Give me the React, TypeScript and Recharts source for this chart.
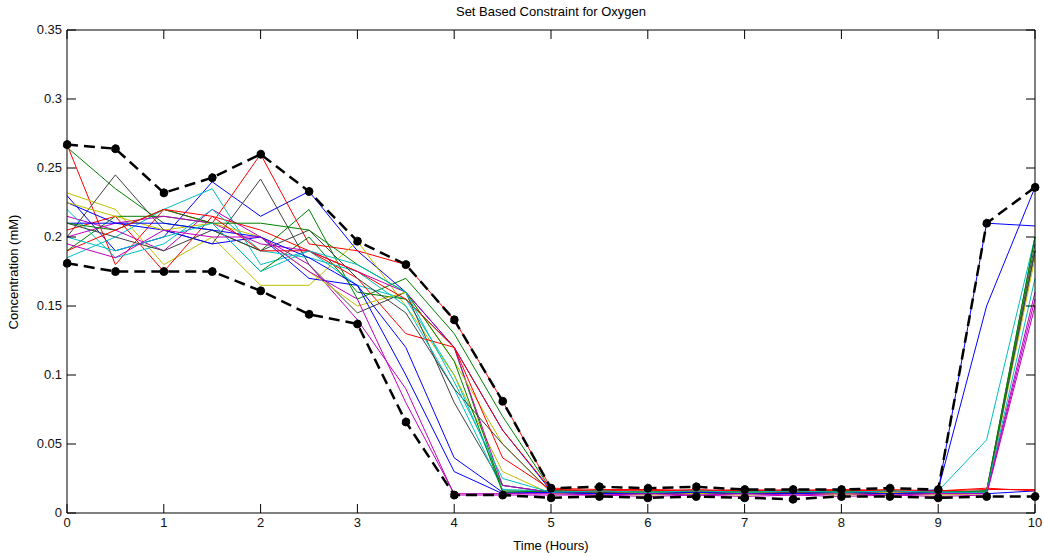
import React from "react";
import { LineChart, Line, XAxis, YAxis } from "recharts";

const time = [0, 0.5, 1, 1.5, 2, 2.5, 3, 3.5, 4, 4.5, 5, 5.5, 6, 6.5, 7, 7.5, 8, 8.5, 9, 9.5, 10];
const xTicks = [0, 1, 2, 3, 4, 5, 6, 7, 8, 9, 10];
const yTicks = [0, 0.05, 0.1, 0.15, 0.2, 0.25, 0.3, 0.35];

const upperBound = [0.267, 0.264, 0.232, 0.243, 0.26, 0.233, 0.197, 0.18, 0.14, 0.081, 0.018, 0.019, 0.018, 0.019, 0.017, 0.017, 0.017, 0.018, 0.017, 0.21, 0.236];
const lowerBound = [0.181, 0.175, 0.175, 0.175, 0.161, 0.144, 0.137, 0.066, 0.013, 0.013, 0.011, 0.012, 0.011, 0.012, 0.011, 0.01, 0.012, 0.012, 0.011, 0.012, 0.012];

const run01 = [0.23, 0.19, 0.2, 0.24, 0.215, 0.233, 0.19, 0.16, 0.12, 0.06, 0.016, 0.015, 0.014, 0.015, 0.014, 0.015, 0.014, 0.015, 0.016, 0.21, 0.208];
const run02 = [0.265, 0.235, 0.21, 0.205, 0.19, 0.22, 0.155, 0.17, 0.13, 0.07, 0.017, 0.016, 0.015, 0.016, 0.015, 0.015, 0.016, 0.015, 0.014, 0.016, 0.2];
const run03 = [0.267, 0.18, 0.22, 0.21, 0.26, 0.195, 0.19, 0.18, 0.14, 0.081, 0.018, 0.017, 0.017, 0.016, 0.016, 0.017, 0.016, 0.017, 0.016, 0.017, 0.017];
const run04 = [0.185, 0.2, 0.22, 0.235, 0.18, 0.19, 0.165, 0.155, 0.1, 0.02, 0.015, 0.014, 0.015, 0.014, 0.015, 0.014, 0.015, 0.014, 0.016, 0.053, 0.2];
const run05 = [0.215, 0.205, 0.19, 0.22, 0.2, 0.18, 0.14, 0.09, 0.013, 0.013, 0.013, 0.013, 0.012, 0.013, 0.012, 0.013, 0.012, 0.013, 0.012, 0.013, 0.15];
const run06 = [0.232, 0.22, 0.18, 0.2, 0.165, 0.165, 0.197, 0.15, 0.1, 0.03, 0.014, 0.014, 0.013, 0.014, 0.013, 0.014, 0.013, 0.014, 0.013, 0.014, 0.19];
const run07 = [0.2, 0.245, 0.205, 0.195, 0.242, 0.18, 0.145, 0.16, 0.08, 0.02, 0.015, 0.015, 0.014, 0.015, 0.014, 0.015, 0.014, 0.015, 0.014, 0.015, 0.195];
const run08 = [0.225, 0.21, 0.205, 0.195, 0.2, 0.17, 0.165, 0.12, 0.04, 0.015, 0.015, 0.014, 0.015, 0.014, 0.015, 0.014, 0.015, 0.014, 0.017, 0.15, 0.236];
const run09 = [0.19, 0.215, 0.215, 0.21, 0.175, 0.2, 0.16, 0.155, 0.12, 0.016, 0.016, 0.015, 0.016, 0.015, 0.016, 0.015, 0.016, 0.015, 0.015, 0.015, 0.19];
const run10 = [0.205, 0.215, 0.175, 0.215, 0.205, 0.19, 0.17, 0.13, 0.12, 0.06, 0.017, 0.016, 0.016, 0.017, 0.016, 0.016, 0.017, 0.016, 0.015, 0.016, 0.19];
const run11 = [0.22, 0.185, 0.195, 0.22, 0.19, 0.185, 0.175, 0.15, 0.09, 0.017, 0.016, 0.015, 0.015, 0.015, 0.015, 0.016, 0.015, 0.015, 0.015, 0.016, 0.19];
const run12 = [0.2, 0.21, 0.215, 0.21, 0.195, 0.19, 0.175, 0.16, 0.12, 0.02, 0.015, 0.015, 0.014, 0.015, 0.014, 0.015, 0.014, 0.015, 0.014, 0.015, 0.16];
const run13 = [0.225, 0.215, 0.205, 0.21, 0.2, 0.175, 0.15, 0.16, 0.11, 0.05, 0.015, 0.015, 0.015, 0.014, 0.015, 0.015, 0.014, 0.015, 0.015, 0.015, 0.185];
const run14 = [0.21, 0.2, 0.19, 0.205, 0.19, 0.205, 0.17, 0.145, 0.09, 0.05, 0.015, 0.015, 0.014, 0.015, 0.014, 0.015, 0.015, 0.014, 0.015, 0.015, 0.19];
const run15 = [0.21, 0.21, 0.21, 0.205, 0.2, 0.185, 0.165, 0.1, 0.03, 0.014, 0.015, 0.014, 0.014, 0.015, 0.014, 0.014, 0.015, 0.014, 0.015, 0.014, 0.016];
const run16 = [0.21, 0.205, 0.22, 0.21, 0.21, 0.205, 0.18, 0.16, 0.11, 0.015, 0.016, 0.016, 0.015, 0.016, 0.015, 0.016, 0.015, 0.016, 0.015, 0.016, 0.2];
const run17 = [0.19, 0.205, 0.22, 0.215, 0.19, 0.19, 0.175, 0.155, 0.12, 0.04, 0.017, 0.016, 0.017, 0.016, 0.017, 0.016, 0.017, 0.016, 0.016, 0.018, 0.016];
const run18 = [0.2, 0.19, 0.2, 0.21, 0.175, 0.19, 0.18, 0.16, 0.095, 0.025, 0.015, 0.016, 0.015, 0.016, 0.015, 0.016, 0.015, 0.016, 0.015, 0.015, 0.17];
const run19 = [0.195, 0.185, 0.205, 0.2, 0.2, 0.175, 0.155, 0.08, 0.014, 0.014, 0.014, 0.013, 0.014, 0.013, 0.014, 0.013, 0.014, 0.013, 0.014, 0.014, 0.155];

const runs = [run01, run02, run03, run04, run05, run06, run07, run08, run09, run10, run11, run12, run13, run14, run15, run16, run17, run18, run19];
const colorOrder = ["#0000ff", "#008000", "#ff0000", "#00bfbf", "#bf00bf", "#bfbf00", "#404040"];

const data = time.map((t, i) => {
  const row: Record<string, number> = { t, upper: upperBound[i], lower: lowerBound[i] };
  runs.forEach((r, k) => {
    row["r" + k] = r[i];
  });
  return row;
});

const FONT = "'Liberation Sans', Arial, sans-serif";
const TICK_LEN = 9;

const BottomTick = (props: any) => {
  const { x, y, payload } = props;
  return (
    <g>
      <line x1={x} y1={y} x2={x} y2={y - TICK_LEN} stroke="#000" strokeWidth={1} />
      <text x={x} y={y + 14} textAnchor="middle" fontSize={13} fontFamily={FONT} fill="#111">
        {payload.value}
      </text>
    </g>
  );
};

const TopTick = (props: any) => {
  const { x, y } = props;
  return <line x1={x} y1={y} x2={x} y2={y + TICK_LEN} stroke="#000" strokeWidth={1} />;
};

const LeftTick = (props: any) => {
  const { x, y, payload } = props;
  return (
    <g>
      <line x1={x} y1={y} x2={x + TICK_LEN} y2={y} stroke="#000" strokeWidth={1} />
      <text x={x - 5} y={y + 4} textAnchor="end" fontSize={13} fontFamily={FONT} fill="#111">
        {String(payload.value)}
      </text>
    </g>
  );
};

const RightTick = (props: any) => {
  const { x, y } = props;
  return <line x1={x} y1={y} x2={x - TICK_LEN} y2={y} stroke="#000" strokeWidth={1} />;
};

export default function App() {
  return (
    <div style={{ position: "absolute", left: 0, top: 0, width: 1044, height: 557, background: "#fff" }}>
      <LineChart width={1044} height={557} data={data} margin={{ top: 29, right: 8, bottom: 14, left: 7 }}>
        <text x={551} y={16} textAnchor="middle" fontSize={13} fontFamily={FONT} fill="#000">
          Set Based Constraint for Oxygen
        </text>
        <text x={551} y={550} textAnchor="middle" fontSize={13} fontFamily={FONT} fill="#000">
          Time (Hours)
        </text>
        <text
          x={18}
          y={272}
          textAnchor="middle"
          fontSize={13}
          fontFamily={FONT}
          fill="#000"
          transform="rotate(-90 18 272)"
        >
          Concentration (mM)
        </text>
        <XAxis
          xAxisId="bottom"
          dataKey="t"
          type="number"
          domain={[0, 10]}
          ticks={xTicks}
          height={30}
          tickSize={0}
          tickMargin={0}
          tickLine={false}
          axisLine={{ stroke: "#000", strokeWidth: 1 }}
          tick={<BottomTick />}
          interval={0}
        />
        <XAxis
          xAxisId="top"
          orientation="top"
          dataKey="t"
          type="number"
          domain={[0, 10]}
          ticks={xTicks}
          height={1}
          tickSize={0}
          tickMargin={0}
          tickLine={false}
          axisLine={{ stroke: "#000", strokeWidth: 1 }}
          tick={<TopTick />}
          interval={0}
        />
        <YAxis
          yAxisId="left"
          type="number"
          domain={[0, 0.35]}
          ticks={yTicks}
          width={60}
          tickSize={0}
          tickMargin={0}
          tickLine={false}
          axisLine={{ stroke: "#000", strokeWidth: 1 }}
          tick={<LeftTick />}
          interval={0}
        />
        <YAxis
          yAxisId="right"
          orientation="right"
          type="number"
          domain={[0, 0.35]}
          ticks={yTicks}
          width={1}
          tickSize={0}
          tickMargin={0}
          tickLine={false}
          axisLine={{ stroke: "#000", strokeWidth: 1 }}
          tick={<RightTick />}
          interval={0}
        />
        <Line
          xAxisId="top"
          yAxisId="right"
          dataKey="upper"
          stroke="none"
          strokeOpacity={0}
          dot={false}
          activeDot={false}
          isAnimationActive={false}
        />
        {runs.map((_, k) => (
          <Line
            key={"r" + k}
            xAxisId="bottom"
            yAxisId="left"
            dataKey={"r" + k}
            stroke={colorOrder[k % colorOrder.length]}
            strokeWidth={1}
            dot={false}
            activeDot={false}
            isAnimationActive={false}
          />
        ))}
        <Line
          xAxisId="bottom"
          yAxisId="left"
          dataKey="upper"
          stroke="#000"
          strokeWidth={2.5}
          strokeDasharray="11 6"
          dot={{ r: 4, fill: "#000", stroke: "#000", strokeWidth: 1 }}
          activeDot={false}
          isAnimationActive={false}
        />
        <Line
          xAxisId="bottom"
          yAxisId="left"
          dataKey="lower"
          stroke="#000"
          strokeWidth={2.5}
          strokeDasharray="11 6"
          dot={{ r: 4, fill: "#000", stroke: "#000", strokeWidth: 1 }}
          activeDot={false}
          isAnimationActive={false}
        />
      </LineChart>
    </div>
  );
}
